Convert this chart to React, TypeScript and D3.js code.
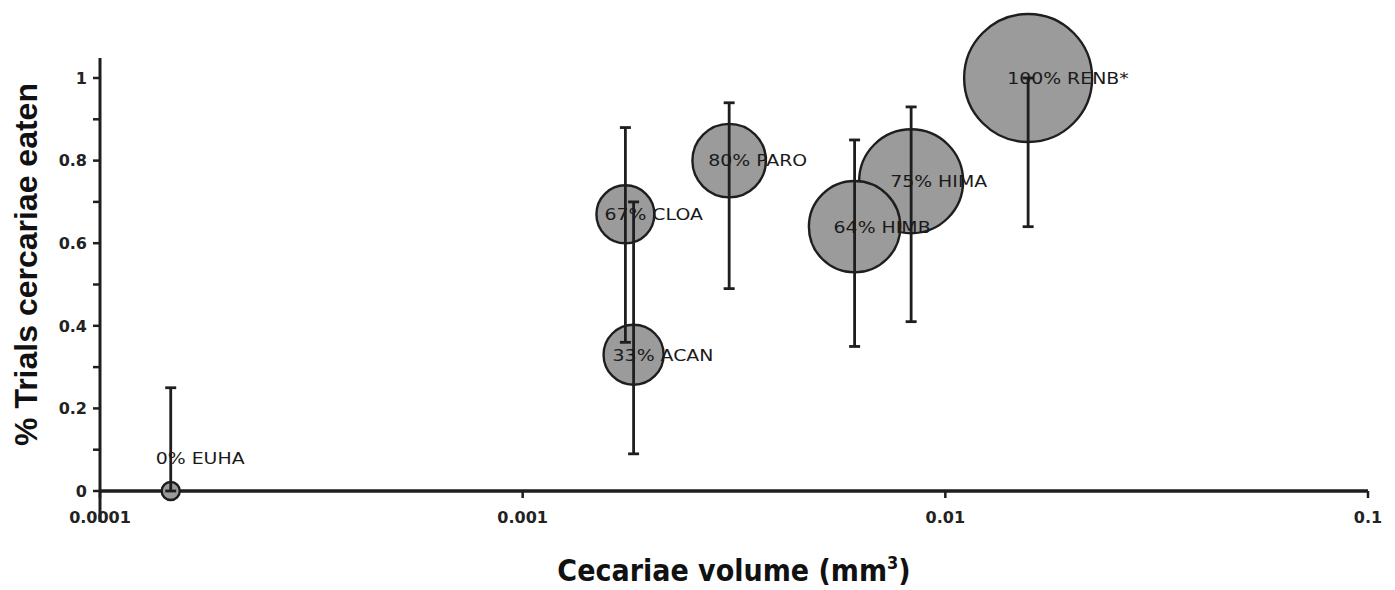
import React from "react";
import * as d3 from "d3";

const codes = ["EUHA", "CLOA", "ACAN", "PARO", "HIMB", "HIMA", "RENB*"];
const volume = [0.000147, 0.00175, 0.00183, 0.00308, 0.0061, 0.0083, 0.0157];
const eaten = [0, 0.67, 0.33, 0.8, 0.64, 0.75, 1.0];
const errLow = [0, 0.36, 0.09, 0.49, 0.35, 0.41, 0.64];
const errHigh = [0.25, 0.88, 0.7, 0.94, 0.85, 0.93, 1.0];
const bubbleSize = [2, 20.5, 22, 33, 51, 66, 100];

const xTicks = [0.0001, 0.001, 0.01, 0.1];
const xTickLabels = ["0.0001", "0.001", "0.01", "0.1"];
const yTicks = [0, 0.2, 0.4, 0.6, 0.8, 1];
const yTickLabels = ["0", "0.2", "0.4", "0.6", "0.8", "1"];
const yMinorTicks = [0.1, 0.3, 0.5, 0.7, 0.9];

const W = 1395;
const H = 590;
const ink = "#1e1e1e";

export default function App() {
  const x = d3.scaleLog().domain([0.0001, 0.1]).range([100, 1368]);
  const y = d3.scaleLinear().domain([0, 1]).range([491, 78]);
  const r = d3.scaleSqrt().domain([0, d3.max(bubbleSize) as number]).range([0, 64]);

  const rows = codes.map((c, i) => ({
    code: c,
    vol: volume[i],
    p: eaten[i],
    lo: errLow[i],
    hi: errHigh[i],
    size: bubbleSize[i],
  }));
  // big bubbles go underneath small ones
  const drawOrder = [...rows].sort((a, b) => b.size - a.size);

  return (
    <svg
      width={W}
      height={H}
      style={{ position: "absolute", left: 0, top: 0, background: "#fff" }}
    >
      {/* axes */}
      <line x1={100} x2={100} y1={58} y2={522} stroke={ink} strokeWidth={3} />
      {[...yTicks, ...yMinorTicks].map((t) => (
        <line key={"yt" + t} x1={93} x2={100} y1={y(t)} y2={y(t)} stroke={ink} strokeWidth={2.5} />
      ))}
      {yTicks.map((t, i) => (
        <text
          key={"yl" + t}
          x={87}
          y={y(t)}
          dy="0.36em"
          textAnchor="end"
          fontFamily="DejaVu Sans"
          fontWeight="bold"
          fontSize={16}
          fill="#222"
        >
          {yTickLabels[i]}
        </text>
      ))}

      <line x1={x(0.0001)} x2={x(0.1)} y1={y(0)} y2={y(0)} stroke={ink} strokeWidth={3.5} />
      {xTicks.map((t, i) => (
        <g key={"xt" + t}>
          <line x1={x(t)} x2={x(t)} y1={y(0)} y2={y(0) + 7} stroke={ink} strokeWidth={2.5} />
          <text
            x={x(t)}
            y={y(0) + 32}
            textAnchor="middle"
            fontFamily="DejaVu Sans"
            fontWeight="bold"
            fontSize={16}
            fill="#222"
          >
            {xTickLabels[i]}
          </text>
        </g>
      ))}

      {/* bubbles */}
      {drawOrder.map((d) => (
        <circle
          key={"b" + d.code}
          cx={x(d.vol)}
          cy={y(d.p)}
          r={r(d.size)}
          fill="#9b9b9b"
          stroke={ink}
          strokeWidth={2.4}
        />
      ))}

      {/* error bars */}
      {rows.map((d) => {
        const cx = x(d.vol);
        return (
          <g key={"e" + d.code} stroke={ink} strokeWidth={2.8}>
            <line x1={cx} x2={cx} y1={y(d.lo)} y2={y(d.hi)} />
            <line x1={cx - 5.5} x2={cx + 5.5} y1={y(d.lo)} y2={y(d.lo)} />
            <line x1={cx - 5.5} x2={cx + 5.5} y1={y(d.hi)} y2={y(d.hi)} />
          </g>
        );
      })}

      {/* data labels */}
      {rows.map((d) => {
        const cx = x(d.vol);
        const cy = d.p === 0 ? y(d.p) - 33 : y(d.p);
        return (
          <g key={"l" + d.code} transform={`translate(${cx - (d.p === 0 ? 15 : 21)},${cy}) scale(1.22,1)`}>
            <text dy="0.38em" fontFamily="DejaVu Sans" fontSize={15.5} fill="#1a1a1a">
              {`${Math.round(d.p * 100)}% ${d.code}`}
            </text>
          </g>
        );
      })}

      {/* axis titles */}
      <text
        transform={`translate(37,${(y(0) + y(1)) / 2 - 20}) rotate(-90)`}
        textAnchor="middle"
        fontFamily="Liberation Sans"
        fontWeight="bold"
        fontSize={32}
        fill="#111"
      >
        % Trials cercariae eaten
      </text>
      <g transform={`translate(${(x(0.0001) + x(0.1)) / 2},581) scale(0.9,1)`}>
        <text
          textAnchor="middle"
          fontFamily="DejaVu Sans"
          fontWeight="bold"
          fontSize={30}
          fill="#111"
        >
          Cecariae volume (mm
          <tspan dy={-12} fontSize={18}>
            3
          </tspan>
          <tspan dy={12}>)</tspan>
        </text>
      </g>
    </svg>
  );
}
